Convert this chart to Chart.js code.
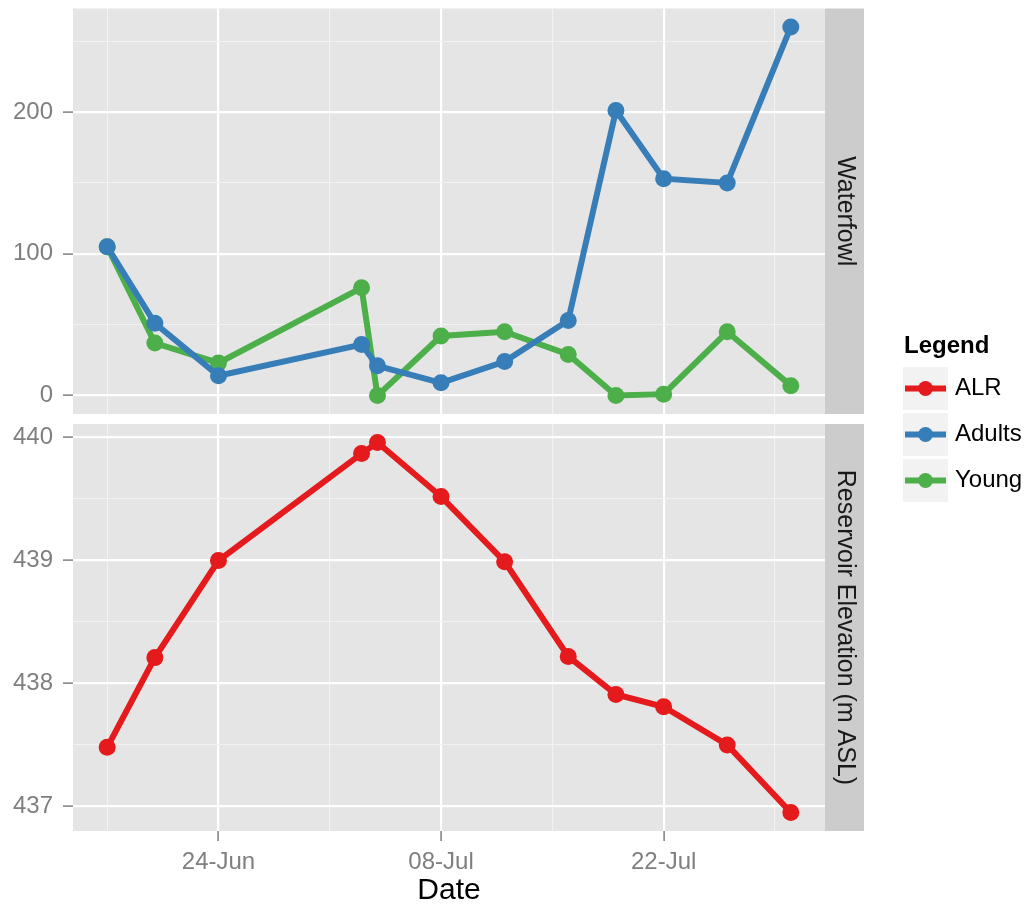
<!DOCTYPE html>
<html>
<head>
<meta charset="utf-8">
<script src="https://cdn.jsdelivr.net/npm/chart.js@4.4.1/dist/chart.umd.min.js"></script>
<style>
  html, body { margin: 0; padding: 0; background: #fff; }
  #wrap { position: relative; width: 1031px; height: 907px; }
  #wrap canvas { position: absolute; left: 0; top: 0; }
</style>
</head>
<body>
<div id="wrap">
  <canvas id="topChart" width="1031" height="907"></canvas>
  <canvas id="bottomChart" width="1031" height="907"></canvas>
</div>
<script>
// survey dates (year not shown on the chart)
const surveyDates = ["2013-06-17", "2013-06-20", "2013-06-24", "2013-07-03", "2013-07-04", "2013-07-08",
  "2013-07-12", "2013-07-16", "2013-07-19", "2013-07-22", "2013-07-26", "2013-07-30"];

// waterfowl counts
const adults = [105, 51, 14, 36, 21, 9, 24, 53, 201, 153, 150, 260];
const young = [105, 37, 23, 76, 0, 42, 45, 29, 0, 1, 45, 7];

// reservoir elevation (m ASL)
const alr = [437.48, 438.21, 439.0, 439.87, 439.96, 439.52, 438.99, 438.22, 437.91, 437.81, 437.5, 436.95];

const seriesNames = ["ALR", "Adults", "Young"];
const seriesColors = ["#E41A1C", "#377EB8", "#4DAF4A"];

// ticks
const xMajorDates = ["2013-06-24", "2013-07-08", "2013-07-22"];
const xMajorLabels = ["24-Jun", "08-Jul", "22-Jul"];
const xMinorDates = ["2013-06-17", "2013-07-01", "2013-07-15", "2013-07-29"];
const fowlMajor = [0, 100, 200];
const fowlMinor = [50, 150, 250];
const elevMajor = [437, 438, 439, 440];
const elevMinor = [437.5, 438.5, 439.5];

const FONT = '"Liberation Sans", Arial, sans-serif';

// days since 31 May
const dayNum = (s) => (Date.parse(s) - Date.parse("2013-05-31")) / 864e5;

const xMajor = xMajorDates.map(dayNum);
const xMinor = xMinorDates.map(dayNum);

// ggplot style 5% expansion
function expand(vals) {
  const lo = Math.min(...vals), hi = Math.max(...vals);
  const pad = (hi - lo) * 0.05;
  return [lo - pad, hi + pad];
}
const xRange = expand(surveyDates.map(dayNum));
const fowlRange = expand(adults.concat(young));
const elevRange = expand(alr);

function toPoints(vals) {
  return surveyDates.map((d, i) => ({ x: dayNum(d), y: vals[i] }));
}

function gridOpts(majors) {
  const isMajor = (c) => c.tick && majors.some((m) => Math.abs(m - c.tick.value) < 1e-6);
  return {
    color: (c) => (isMajor(c) ? "#FFFFFF" : "#F2F2F2"),
    lineWidth: (c) => (isMajor(c) ? 2.2 : 1.1),
    tickColor: (c) => (isMajor(c) ? "#7F7F7F" : "rgba(0,0,0,0)"),
    tickWidth: 1.5,
    tickLength: 10,
  };
}

function setTicks(list) {
  return (scale) => {
    scale.ticks = list.slice().sort((a, b) => a - b).map((v) => ({ value: v }));
  };
}

// keep the plot area where the layout padding puts it
function fixY(s) {
  s.width = 73;
  s.paddingTop = 0;
  s.paddingBottom = 0;
}

function lineSet(label, vals, color) {
  return {
    label: label,
    data: toPoints(vals),
    borderColor: color,
    backgroundColor: color,
    borderWidth: 6,
    pointRadius: 8.5,
    pointHoverRadius: 8.5,
    pointBorderWidth: 0,
    pointBackgroundColor: color,
    tension: 0,
  };
}

// panel background + strip on the right
const panelPlugin = {
  id: "panel",
  beforeDraw(chart, args, opts) {
    const { ctx, chartArea: a } = chart;
    ctx.save();
    ctx.fillStyle = "#E5E5E5";
    ctx.fillRect(a.left, a.top, a.right - a.left, a.bottom - a.top);
    ctx.fillStyle = "#CCCCCC";
    ctx.fillRect(a.right, a.top, 39, a.bottom - a.top);
    ctx.translate(a.right + 19.5, (a.top + a.bottom) / 2);
    ctx.rotate(Math.PI / 2);
    ctx.fillStyle = "#1A1A1A";
    ctx.font = "25px " + FONT;
    ctx.textAlign = "center";
    ctx.textBaseline = "middle";
    ctx.fillText(opts.label, 0, 0);
    ctx.restore();
  },
};

// ggplot-like legend at the right
const legendPlugin = {
  id: "sideLegend",
  afterDraw(chart) {
    const ctx = chart.ctx;
    ctx.save();
    ctx.fillStyle = "#000";
    ctx.font = "bold 24px " + FONT;
    ctx.textAlign = "left";
    ctx.textBaseline = "middle";
    ctx.fillText("Legend", 904, 346);
    seriesNames.forEach((name, i) => {
      const top = 367 + i * 46;
      ctx.fillStyle = "#F2F2F2";
      ctx.fillRect(903, top, 45, 43);
      const cy = top + 21.5;
      ctx.strokeStyle = seriesColors[i];
      ctx.lineWidth = 6;
      ctx.beginPath();
      ctx.moveTo(905, cy);
      ctx.lineTo(946, cy);
      ctx.stroke();
      ctx.fillStyle = seriesColors[i];
      ctx.beginPath();
      ctx.arc(925.5, cy, 7.5, 0, Math.PI * 2);
      ctx.fill();
      ctx.fillStyle = "#000";
      ctx.font = "24px " + FONT;
      ctx.fillText(name, 955, cy);
    });
    ctx.restore();
  },
};

const tickFont = { family: FONT, size: 24, lineHeight: 1.2 };

const topChart = new Chart(document.getElementById("topChart"), {
  type: "line",
  data: {
    datasets: [
      lineSet(seriesNames[1], adults, seriesColors[1]),
      lineSet(seriesNames[2], young, seriesColors[2]),
    ],
  },
  plugins: [panelPlugin],
  options: {
    responsive: false,
    animation: false,
    layout: { padding: { left: 0, top: 7, right: 206, bottom: 493 } },
    plugins: {
      legend: { display: false },
      tooltip: { enabled: false },
      panel: { label: "Waterfowl" },
    },
    scales: {
      x: {
        type: "linear",
        min: xRange[0],
        max: xRange[1],
        afterBuildTicks: setTicks(xMajor.concat(xMinor)),
        afterFit: (s) => { s.height = 0; s.paddingLeft = 0; s.paddingRight = 0; },
        ticks: { display: false },
        grid: Object.assign(gridOpts(xMajor), { drawTicks: false }),
        border: { display: false },
      },
      y: {
        min: fowlRange[0],
        max: fowlRange[1],
        afterBuildTicks: setTicks(fowlMajor.concat(fowlMinor)),
        afterFit: fixY,
        ticks: {
          font: tickFont,
          color: "#7F7F7F",
          padding: 10,
          callback: (v) => (fowlMajor.includes(v) ? String(v) : ""),
        },
        grid: gridOpts(fowlMajor),
        border: { display: false },
      },
    },
  },
});

const bottomChart = new Chart(document.getElementById("bottomChart"), {
  type: "line",
  data: {
    datasets: [lineSet(seriesNames[0], alr, seriesColors[0])],
  },
  plugins: [panelPlugin, legendPlugin],
  options: {
    responsive: false,
    animation: false,
    layout: { padding: { left: 0, top: 424, right: 206, bottom: 0 } },
    plugins: {
      legend: { display: false },
      tooltip: { enabled: false },
      panel: { label: "Reservoir Elevation (m ASL)" },
    },
    scales: {
      x: {
        type: "linear",
        min: xRange[0],
        max: xRange[1],
        afterBuildTicks: setTicks(xMajor.concat(xMinor)),
        afterFit: (s) => { s.height = 76; s.paddingLeft = 0; s.paddingRight = 0; },
        ticks: {
          font: tickFont,
          color: "#7F7F7F",
          padding: 7,
          autoSkip: false,
          maxRotation: 0,
          callback: (v) => {
            const i = xMajor.findIndex((m) => Math.abs(m - v) < 1e-6);
            return i >= 0 ? xMajorLabels[i] : "";
          },
        },
        grid: Object.assign(gridOpts(xMajor), { tickLength: 10 }),
        border: { display: false },
        title: {
          display: true,
          text: "Date",
          color: "#000",
          font: { family: FONT, size: 30, lineHeight: 1 },
          padding: { top: 0, bottom: 1 },
        },
      },
      y: {
        min: elevRange[0],
        max: elevRange[1],
        afterBuildTicks: setTicks(elevMajor.concat(elevMinor)),
        afterFit: fixY,
        ticks: {
          font: tickFont,
          color: "#7F7F7F",
          padding: 10,
          callback: (v) => (elevMajor.includes(v) ? String(v) : ""),
        },
        grid: gridOpts(elevMajor),
        border: { display: false },
      },
    },
  },
});
</script>
</body>
</html>
